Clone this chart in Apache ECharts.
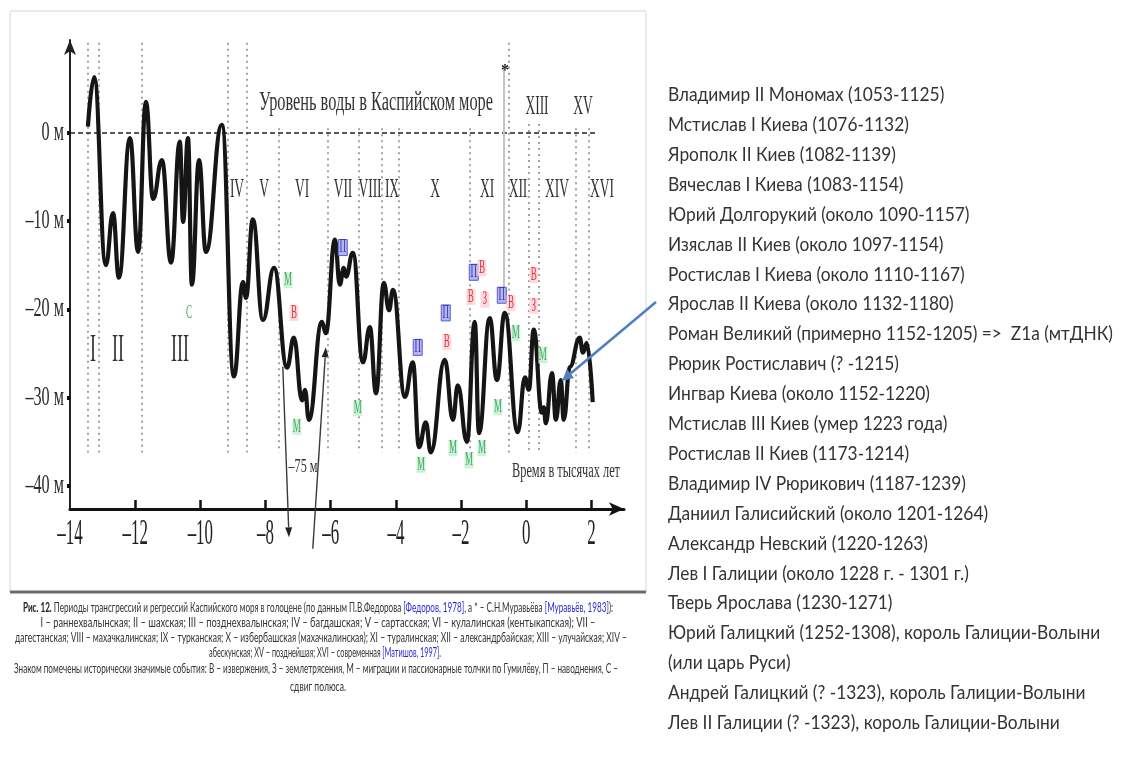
<!DOCTYPE html>
<html><head><meta charset="utf-8">
<script src="https://cdn.jsdelivr.net/npm/echarts@6/dist/echarts.min.js"></script>
<style>html,body{margin:0;padding:0;background:#fff}#c{width:1129px;height:771px}</style>
</head><body><div id="c"></div>
<script>
// ---------------- DATA ----------------
// Caspian Sea level curve (thousands of years, metres)
const levelX = [-13.45,-13.26,-12.90,-12.68,-12.50,-12.16,-11.91,-11.67,-11.45,-11.18,-10.90,-10.63,-10.53,-10.38,-10.26,-10.04,-9.83,-9.34,-8.97,-8.69,-8.60,-8.39,-8.08,-7.74,-7.34,-7.13,-6.88,-6.79,-6.67,-6.27,-6.15,-5.87,-5.72,-5.60,-5.53,-5.32,-5.01,-4.80,-4.61,-4.37,-4.21,-4.09,-3.72,-3.48,-3.29,-3.08,-2.93,-2.50,-2.25,-2.10,-1.82,-1.58,-1.45,-1.12,-0.90,-0.66,-0.26,-0.04,0.08,0.23,0.48,0.54,0.60,0.79,0.91,1.06,1.15,1.34,1.64,1.74,1.86,2.04];
const levelY = [0.7,6.3,-15.0,-9.1,-16.4,-0.6,-13.5,3.5,-7.5,-3.1,-14.7,-1.0,-10.1,-0.6,-17.2,-3.1,-13.5,0.9,-27.6,-16.9,-18.7,-9.8,-21.2,-15.3,-26.6,-23.2,-30.3,-29.1,-32.5,-21.4,-22.7,-12.1,-17.2,-15.3,-16.3,-13.6,-26.0,-22.0,-29.5,-17.0,-20.1,-17.8,-29.9,-26.0,-35.6,-32.8,-36.2,-25.7,-32.5,-28.6,-35.0,-21.4,-34.0,-21.0,-28.0,-20.4,-33.9,-27.7,-29.1,-22.3,-31.7,-31.1,-32.9,-27.2,-32.5,-28.0,-32.5,-26.5,-23.2,-24.9,-23.8,-30.5];
// excursion to -75 m (drawn as arrows): [x1, y1, x2, y2]
const excursionFromX = [-7.47, -6.55];
const excursionFromY = [-26.5, -47.1];
const excursionToX = [-7.28, -6.15];
const excursionToY = [-45.8, -24.3];
// period boundaries
const boundaryX   = [-13.45,-13.11,-11.79,-9.15,-8.57,-7.59,-6.09,-5.13,-4.43,-3.91,-1.73,-0.53,0.08,0.39,1.52,1.92];
const boundaryTop = [10.2,10.2,10.2,10.2,10.2,0.5,0.5,0.5,0.5,0.5,0.5,10.2,1.0,1.0,0.5,0.5];
const boundaryBottom = -36.2;
const zeroLevel = 0;
const modernLevel = -28.8;
const zeroLineRange = [-14, 2.17];
const modernLineRange = [-14.3, 2.44];
const muravievX = -0.69;
const muravievRange = [7.4, -19];
// axes
const xTicks = [-14,-12,-10,-8,-6,-4,-2,0,2];
const yTicks = [0,-10,-20,-30,-40];
// historical events
const eventType = ['С','М','В','М','П','М','П','М','П','В','М','П','В','В','З','М','М','П','В','М','М','В','З','М'];
const eventX = [-10.35,-7.31,-7.13,-7.04,-5.63,-5.17,-3.33,-3.23,-2.47,-2.44,-2.25,-1.61,-1.36,-1.70,-1.27,-1.76,-1.36,-0.75,-0.47,-0.32,-0.87,0.23,0.23,0.51];
const eventY = [-20.4,-16.7,-20.4,-33.3,-13.0,-31.2,-24.3,-37.6,-20.4,-23.7,-35.7,-15.8,-15.3,-18.6,-18.9,-37.1,-35.7,-18.4,-19.3,-22.7,-31.1,-16.1,-19.6,-25.2];
// period names
const periodNames = ['I','II','III','IV','V','VI','VII','VIII','IX','X','XI','XII','XIII','XIV','XV','XVI'];
const titleText = 'Уровень воды в Каспийском море';
const xAxisName = 'Время в тысячах лет';
const dropLabel = '–75 м';
const rulers = [
 'Владимир II Мономах (1053-1125)',
 'Мстислав I Киева (1076-1132)',
 'Ярополк II Киев (1082-1139)',
 'Вячеслав I Киева (1083-1154)',
 'Юрий Долгорукий (около 1090-1157)',
 'Изяслав II Киев (около 1097-1154)',
 'Ростислав I Киева (около 1110-1167)',
 'Ярослав II Киева (около 1132-1180)',
 'Роман Великий (примерно 1152-1205) =>  Z1a (мтДНК)',
 'Рюрик Ростиславич (? -1215)',
 'Ингвар Киева (около 1152-1220)',
 'Мстислав III Киев (умер 1223 года)',
 'Ростислав II Киев (1173-1214)',
 'Владимир IV Рюрикович (1187-1239)',
 'Даниил Галисийский (около 1201-1264)',
 'Александр Невский (1220-1263)',
 'Лев I Галиции (около 1228 г. - 1301 г.)',
 'Тверь Ярослава (1230-1271)',
 'Юрий Галицкий (1252-1308), король Галиции-Волыни',
 '(или царь Руси)',
 'Андрей Галицкий (? -1323), король Галиции-Волыни',
 'Лев II Галиции (? -1323), король Галиции-Волыни'
];
const captionLines = [
 '{b|Рис. 12.} Периоды трансгрессий и регрессий Каспийского моря в голоцене (по данным П.В.Федорова {l|[Федоров, 1978]}, а * – С.Н.Муравьёва {l|[Муравьёв, 1983]}):',
 'I – раннехвалынская; II – шахская; III – позднехвалынская; IV – багдашская; V – сартасская; VI – кулалинская (кентыкапская); VII –',
 'дагестанская; VIII – махачкалинская; IX – турканская; X – избербашская (махачкалинская); XI – туралинская; XII – александрбайская; XIII – улучайская; XIV –',
 'абескунская; XV – позднейшая; XVI – современная {l|[Матишов, 1997]}.',
 'Знаком помечены исторически значимые события: В – извержения, З – землетрясения, М – миграции и пассионарные толчки по Гумилёву, П – наводнения, С –',
 'сдвиг полюса.'
];

// ---------------- LAYOUT ----------------
const SERIF = '"Liberation Serif", "DejaVu Serif", serif';
const SANS = 'Lato, "Open Sans", sans-serif';
const mctx = document.createElement('canvas').getContext('2d');
function measure(t, font){ mctx.font = font; return mctx.measureText(t).width; }
function fitScale(t, font, w){ return w / measure(t, font); }

const romanPos = [[93,350],[118,350],[180,350],[237,190],[264,190],[302,190],[343,190],[370,190],[392,190],[435,190],[487,190],[518,190],[537,107],[557,190],[583,107],[602,190]];
const captionBox = [[318,607,590],[318,622,555],[321,637,612],[325,652,232],[316,668,604],[318,686,56]];

const EV = {
  'М': {fill:'#3bab62', bg:'rgba(200,238,210,0.85)', stroke:null},
  'В': {fill:'#e3323d', bg:'rgba(251,212,216,0.85)', stroke:null},
  'З': {fill:'#e3323d', bg:'rgba(251,212,216,0.85)', stroke:null},
  'П': {fill:'#3434b0', bg:'#b4b4f0', stroke:'#5a5ad2'},
  'С': {fill:'#3bab62', bg:null, stroke:null}
};

const chart = echarts.init(document.getElementById('c'));

function vline(x, y1, y2){ return [{coord:[x,y1]},{coord:[x,y2]}]; }

const option = {
  animation:false,
  backgroundColor:'#ffffff',
  grid:{left:70, top:40, width:554, height:469},
  xAxis:{type:'value', min:-14, max:3,
    axisLine:{onZero:false, lineStyle:{color:'#111', width:3}, symbol:['none','arrow'], symbolSize:[10,15]},
    axisTick:{show:true, inside:true, length:9, lineStyle:{color:'#111', width:2.5}, customValues:xTicks.slice(1)},
    axisLabel:{show:false}, splitLine:{show:false}},
  yAxis:{type:'value', min:-42.6, max:10.5,
    axisLine:{onZero:false, lineStyle:{color:'#222', width:2}, symbol:['none','arrow'], symbolSize:[9,15]},
    axisTick:{show:true, length:3, lineStyle:{color:'#111', width:4}, customValues:yTicks},
    axisLabel:{show:false}, splitLine:{show:false}},
  series:[
    {type:'line', data:[[-14,0]], symbol:'none', silent:true, clip:false, lineStyle:{width:0},
      markLine:{silent:true, symbol:'none', animation:false, label:{show:false},
        lineStyle:{type:[2,4], color:'#8c8c8c', width:1.6},
        data: boundaryX.map((x,i)=>vline(x, boundaryTop[i], boundaryBottom))}},
    {type:'line', data:[[-14,0]], symbol:'none', silent:true, clip:false, lineStyle:{width:0},
      markLine:{silent:true, symbol:'none', animation:false, label:{show:false},
        lineStyle:{type:[5,3], color:'#222', width:1.6},
        data:[[{coord:[zeroLineRange[0],zeroLevel]},{coord:[zeroLineRange[1],zeroLevel]}]]}},
    {type:'line', data:[[-14,0]], symbol:'none', silent:true, clip:false, lineStyle:{width:0},
      markLine:{silent:true, symbol:'none', animation:false, label:{show:false},
        lineStyle:{type:'solid', color:'#c4c4c4', width:2},
        data:[vline(muravievX, muravievRange[0], muravievRange[1])]}},
    {type:'line', data:[[-14,0]], symbol:'none', silent:true, clip:false, lineStyle:{width:0}, z:6,
      markLine:{silent:true, symbol:'none', animation:false, label:{show:false},
        lineStyle:{type:'solid', color:'#111', width:3.2},
        data:[[{coord:[modernLineRange[0],modernLevel]},{coord:[modernLineRange[1],modernLevel]}]]}},
    {type:'custom', z:4, clip:false, silent:true,
      data: excursionFromX.map((x,i)=>[x, excursionFromY[i], excursionToX[i], excursionToY[i]]),
      renderItem:(params, api)=>{
        const a = api.coord([api.value(0), api.value(1)]);
        const b = api.coord([api.value(2), api.value(3)]);
        const dx = b[0]-a[0], dy = b[1]-a[1], L = Math.hypot(dx,dy);
        const ux = dx/L, uy = dy/L, hl = 10, hw = 3.5;
        const bx = b[0]-ux*hl, by = b[1]-uy*hl;
        return {type:'group', children:[
          {type:'line', shape:{x1:a[0], y1:a[1], x2:bx, y2:by}, style:{stroke:'#3a3a3a', lineWidth:1.4}},
          {type:'polygon', shape:{points:[[b[0],b[1]],[bx-uy*hw, by+ux*hw],[bx+uy*hw, by-ux*hw]]}, style:{fill:'#222'}}
        ]};
      }},
    {type:'line', name:'level', z:5, data: levelX.map((x,i)=>[x, levelY[i]]),
      symbol:'none', smooth:0.45, smoothMonotone:'x', clip:false,
      lineStyle:{color:'#151515', width:4.2}},
    {type:'custom', z:8, clip:false, data: eventX.map((x,i)=>[x, eventY[i]]),
      renderItem:(params, api)=>{
        const p = api.coord([api.value(0), api.value(1)]);
        const t = eventType[params.dataIndex];
        const s = EV[t];
        const ch = [];
        if (s.bg) ch.push({type:'rect', shape:{x:p[0]-4.5, y:p[1]-8, width:9, height:16}, style:{fill:s.bg, stroke:s.stroke, lineWidth:1}});
        ch.push({type:'text', x:p[0], y:p[1], scaleX:0.5, style:{text:t, font:'18px ' + SERIF, fill:s.fill, align:'center', verticalAlign:'middle'}});
        return {type:'group', children:ch};
      }}
  ]
};
chart.setOption(option);

// ---------------- TEXT / ANNOTATIONS ----------------
const els = [];
function txt(x, y, t, font, opts){
  opts = opts || {};
  els.push({type:'text', x, y, scaleX: opts.scaleX || 1, z:20, silent:true,
    style:{text:t, font, fill: opts.fill || '#2a2a2a', align: opts.align || 'center', verticalAlign:'middle', rich: opts.rich}});
}
// frame
els.push({type:'rect', shape:{x:10, y:11, width:636, height:581}, style:{fill:'none', stroke:'#d6d6d6', lineWidth:1}, z:1, silent:true});
els.push({type:'line', shape:{x1:10, y1:592, x2:646, y2:592}, style:{stroke:'#6b6b6b', lineWidth:3}, z:1, silent:true});

// axis labels
xTicks.forEach(v=>{
  const p = chart.convertToPixel({gridIndex:0}, [v, -42.6]);
  const t = v < 0 ? '–' + Math.abs(v) : String(v);
  txt(p[0], 535, t, '36px ' + SERIF, {scaleX:0.47, fill:'#222'});
});
yTicks.forEach(v=>{
  const p = chart.convertToPixel({gridIndex:0}, [-14, v]);
  const t = (v < 0 ? '–' + Math.abs(v) : String(v)) + ' м';
  txt(64, p[1], t, '27px ' + SERIF, {scaleX:0.6, align:'right', fill:'#2a2a2a'});
});

// title
{ const f = '28px ' + SERIF; txt(376, 103, titleText, f, {scaleX: fitScale(titleText, f, 234), fill:'#333'}); }
// period numerals
periodNames.forEach((n,i)=>{
  const big = i < 3;
  const f = (big ? '40px ' : '27px ') + SERIF;
  txt(romanPos[i][0], romanPos[i][1], n, f, {scaleX: big ? 0.45 : 0.5, fill:'#333'});
});
// axis name
{ const f = '20px ' + SERIF; txt(566, 472, xAxisName, f, {scaleX: fitScale(xAxisName, f, 108), fill:'#333'}); }
{ const f = '18px ' + SERIF; txt(303, 467, dropLabel, f, {scaleX: fitScale(dropLabel, f, 29), fill:'#333'}); }
txt(505, 71, '*', 'bold 16px ' + SERIF, {fill:'#222'});

// blue arrow
els.push({type:'line', shape:{x1:656, y1:302, x2:570, y2:374}, style:{stroke:'#4f81bd', lineWidth:2.6}, z:21, silent:true});
els.push({type:'polygon', shape:{points:[[562,381],[574,378],[567,369]]}, style:{fill:'#4f81bd'}, z:21, silent:true});

// ruler list
{
  const f = '19px ' + SANS;
  const sc = fitScale(rulers[8], f, 445);
  rulers.forEach((r,i)=>{ txt(668, 95 + i*29.9, r, f, {scaleX:sc, align:'left', fill:'#333'}); });
}
// caption
captionLines.forEach((line,i)=>{
  const plain = line.replace(/\{[a-z]\|([^}]*)\}/g, '$1');
  const f = '14px ' + SANS;
  const sc = fitScale(plain, f, captionBox[i][2]);
  txt(captionBox[i][0], captionBox[i][1], line, f, {scaleX:sc, fill:'#333',
    rich:{b:{font:'bold 14px ' + SANS, fill:'#222'}, l:{font:'14px ' + SANS, fill:'#2b2bd6'}}});
});

chart.setOption({graphic:{elements:els}});
</script>
</body></html>
